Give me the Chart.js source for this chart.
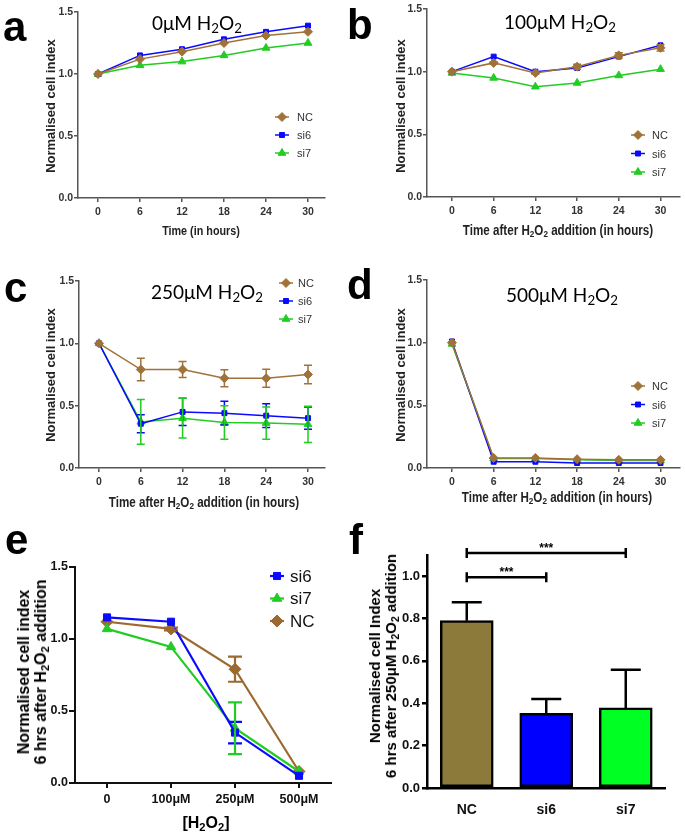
<!DOCTYPE html>
<html><head><meta charset="utf-8">
<script src="https://cdn.jsdelivr.net/npm/chart.js@4.4.1/dist/chart.umd.min.js"></script>
<style>
html,body{margin:0;padding:0;background:#fff}
body{width:685px;height:835px;position:relative;overflow:hidden;font-family:'Liberation Sans',Arial,sans-serif}
canvas{position:absolute;z-index:1}
.tx{position:absolute;white-space:nowrap;z-index:2;line-height:1;color:#000}
.letter{font:bold 42px 'Liberation Sans',Arial,sans-serif}
.pt{font:19px Lato,'Open Sans',sans-serif;transform:translateX(-50%)}
.yt{font:bold 13px 'Liberation Sans',Arial,sans-serif;color:#222;transform:translate(-50%,-50%) rotate(-90deg)}
.xt{font:bold 14px 'Liberation Sans',Arial,sans-serif;color:#222;transform:translate(-50%,-50%) scaleX(0.83)}
.yt2{font:bold 16px 'Liberation Sans',Arial,sans-serif;line-height:17px;text-align:center;transform:translate(-50%,-50%) rotate(-90deg)}
.xt2{font:bold 16px 'Liberation Sans',Arial,sans-serif;transform:translate(-50%,-50%)}
sub{font-size:0.7em;vertical-align:-0.25em;line-height:0}
</style>
</head><body>
<script>
// ---------------- DATA ----------------
const hours = [0, 6, 12, 18, 24, 30];
const timeYTicks = [0, 0.5, 1.0, 1.5];

const aNC  = [1.00, 1.12, 1.18, 1.25, 1.31, 1.34];
const aSi6 = [1.00, 1.15, 1.20, 1.28, 1.34, 1.39];
const aSi7 = [1.00, 1.07, 1.10, 1.15, 1.21, 1.25];

const bNC  = [1.00, 1.07, 0.99, 1.04, 1.13, 1.19];
const bNCerr = [0, 0.01, 0.01, 0.02, 0.02, 0.025];
const bSi6 = [1.00, 1.12, 1.00, 1.03, 1.12, 1.21];
const bSi7 = [0.99, 0.95, 0.88, 0.91, 0.97, 1.02];

const cNC  = [1.00, 0.79, 0.79, 0.72, 0.72, 0.75];
const cNCerr = [0, 0.09, 0.065, 0.068, 0.072, 0.075];
const cSi6 = [1.00, 0.355, 0.45, 0.44, 0.42, 0.40];
const cSi6err = [0, 0.073, 0.11, 0.095, 0.095, 0.09];
const cSi7 = [1.00, 0.37, 0.40, 0.365, 0.36, 0.35];
const cSi7err = [0, 0.18, 0.16, 0.135, 0.13, 0.145];

const dNC  = [1.00, 0.08, 0.08, 0.07, 0.065, 0.065];
const dSi6 = [1.01, 0.05, 0.05, 0.04, 0.04, 0.04];
const dSi7 = [0.99, 0.075, 0.075, 0.065, 0.06, 0.06];

const doses = ['0', '100μM', '250μM', '500μM'];
const eSi6 = [1.15, 1.12, 0.35, 0.05];
const eSi6err = [0, 0, 0.075, 0];
const eSi7 = [1.07, 0.945, 0.38, 0.08];
const eSi7err = [0, 0, 0.18, 0];
const eNC  = [1.12, 1.07, 0.79, 0.08];
const eNCerr = [0, 0.01, 0.087, 0];

const groups = ['NC', 'si6', 'si7'];
const fValues = [0.79, 0.353, 0.378];
const fErr = [0.087, 0.067, 0.18];
const fYTicks = [0, 0.2, 0.4, 0.6, 0.8, 1.0];

// ---------------- STYLE ----------------
const BROWN = '#a0723a', BLUE = '#0a0aff', GREEN = '#22cc22';
const SANS = "'Liberation Sans',Arial,sans-serif";

// ---------------- PLUGINS ----------------
const errorBars = {
  id: 'errorBars',
  afterDatasetsDraw(chart) {
    const ctx = chart.ctx, ys = chart.scales.y;
    chart.data.datasets.forEach((ds, i) => {
      if (!ds.errors) return;
      const meta = chart.getDatasetMeta(i);
      if (meta.hidden) return;
      ctx.save();
      ctx.strokeStyle = ds.errorColor || ds.borderColor;
      ctx.lineWidth = ds.errorWidth || 1.5;
      meta.data.forEach((el, j) => {
        const e = ds.errors[j];
        if (!e) return;
        const raw = ds.data[j];
        const v = (typeof raw === 'object') ? raw.y : raw;
        const x = el.x;
        const yTop = ys.getPixelForValue(v + e);
        const yBot = ds.errorUpOnly ? ys.getPixelForValue(v) : ys.getPixelForValue(v - e);
        const cw = ds.errorCap || 4;
        ctx.beginPath();
        ctx.moveTo(x, yTop); ctx.lineTo(x, yBot);
        ctx.moveTo(x - cw, yTop); ctx.lineTo(x + cw, yTop);
        if (!ds.errorUpOnly) { ctx.moveTo(x - cw, yBot); ctx.lineTo(x + cw, yBot); }
        ctx.stroke();
      });
      ctx.restore();
    });
  }
};

const inLegend = {
  id: 'inLegend',
  afterDraw(chart, args, o) {
    if (!o || !o.order) return;
    const ctx = chart.ctx;
    const ox = chart.canvas.offsetLeft, oy = chart.canvas.offsetTop;
    o.order.forEach((di, k) => {
      const ds = chart.data.datasets[di];
      const y = o.y - oy + k * o.dy;
      const x0 = o.x - ox;
      ctx.save();
      ctx.strokeStyle = ds.borderColor;
      ctx.lineWidth = ds.borderWidth;
      ctx.beginPath(); ctx.moveTo(x0, y); ctx.lineTo(x0 + o.len, y); ctx.stroke();
      ctx.fillStyle = ds.pointBackgroundColor;
      ctx.strokeStyle = ds.pointBorderColor;
      ctx.lineWidth = 1;
      Chart.helpers.drawPoint(ctx, {pointStyle: ds.pointStyle, radius: ds.pointRadius, borderWidth: 1, rotation: 0}, x0 + o.len / 2, y);
      ctx.fillStyle = o.color || '#333';
      ctx.font = o.font;
      ctx.textBaseline = 'middle';
      ctx.textAlign = 'left';
      ctx.fillText(ds.label, o.textX - ox, y + 1);
      ctx.restore();
    });
  }
};

const sigBrackets = {
  id: 'sigBrackets',
  afterDraw(chart, args, o) {
    if (!o || !o.items) return;
    const ctx = chart.ctx, xs = chart.scales.x, ys = chart.scales.y;
    ctx.save();
    ctx.strokeStyle = '#000';
    ctx.fillStyle = '#000';
    ctx.lineWidth = 2.5;
    o.items.forEach(it => {
      const x1 = xs.getPixelForValue(it.from), x2 = xs.getPixelForValue(it.to);
      const y = ys.getPixelForValue(it.y);
      ctx.beginPath();
      ctx.moveTo(x1, y); ctx.lineTo(x2, y);
      ctx.moveTo(x1, y - 5); ctx.lineTo(x1, y + 5);
      ctx.moveTo(x2, y - 5); ctx.lineTo(x2, y + 5);
      ctx.stroke();
      ctx.font = 'bold 12px ' + SANS;
      ctx.textAlign = 'center';
      ctx.textBaseline = 'alphabetic';
      ctx.fillText(it.label, (x1 + x2) / 2, y - 1);
    });
    ctx.restore();
  }
};
Chart.register(errorBars, inLegend, sigBrackets);

// ---------------- HELPERS ----------------
function makePanel(box, area, cfg) {
  const c = document.createElement('canvas');
  c.width = box.w; c.height = box.h;
  c.style.left = box.x + 'px'; c.style.top = box.y + 'px';
  c.style.width = box.w + 'px'; c.style.height = box.h + 'px';
  document.body.appendChild(c);
  const o = cfg.options;
  o.responsive = false; o.animation = false; o.devicePixelRatio = 1;
  o.layout = {padding: {left: 0, top: area.top - box.y, right: box.x + box.w - area.right, bottom: 0}};
  o.scales.y.afterFit = s => { s.width = area.left - box.x; };
  o.scales.x.afterFit = s => { s.height = box.y + box.h - area.bottom; };
  o.plugins = Object.assign({legend: {display: false}, tooltip: {enabled: false}}, o.plugins || {});
  return new Chart(c, cfg);
}

function ptsDs(label, xs, ys, color, style, radius, width, errs) {
  return {
    label,
    data: xs.map((x, i) => ({x, y: ys[i]})),
    borderColor: color, backgroundColor: color,
    pointBackgroundColor: color, pointBorderColor: color,
    pointStyle: style, pointRadius: radius, pointBorderWidth: 1,
    borderWidth: width, tension: 0, errors: errs, errorCap: 4, errorWidth: 1.5
  };
}

function axisCommon(len, lw, col) {
  return {
    grid: {drawOnChartArea: false, drawTicks: true, tickLength: len, color: col, lineWidth: lw},
    border: {color: col, width: lw}
  };
}

function timeChart(box, area, xmin, xmax, sets, legend) {
  const tickFont = {family: SANS, size: 10.5, weight: 'bold'};
  return makePanel(box, area, {
    type: 'line',
    data: {datasets: sets},
    options: {
      scales: {
        x: Object.assign({
          type: 'linear', min: xmin, max: xmax,
          afterBuildTicks: s => { s.ticks = hours.map(v => ({value: v})); },
          ticks: {font: tickFont, color: '#333', padding: 4, autoSkip: false, maxRotation: 0, callback: v => String(v)}
        }, axisCommon(4, 1.5, '#555')),
        y: Object.assign({
          type: 'linear', min: 0, max: 1.5,
          afterBuildTicks: s => { s.ticks = timeYTicks.map(v => ({value: v})); },
          ticks: {font: tickFont, color: '#333', padding: 1, callback: v => Number(v).toFixed(1)}
        }, axisCommon(4, 1.5, '#555'))
      },
      plugins: {inLegend: legend}
    }
  });
}

function tripleSets(nc, si6, si7, errs) {
  errs = errs || [];
  return [
    ptsDs('NC', hours, nc, BROWN, 'rectRot', 4.5, 1.5, errs[0]),
    ptsDs('si6', hours, si6, BLUE, 'rect', 3.5, 1.5, errs[1]),
    ptsDs('si7', hours, si7, GREEN, 'triangle', 4.5, 1.5, errs[2])
  ];
}
const legFont = '11px ' + SANS;

// ---------------- PANELS a-d ----------------
timeChart({x: 0, y: 0, w: 340, h: 250}, {left: 78, top: 12, right: 325, bottom: 198}, -2.86, 32.43,
  tripleSets(aNC, aSi6, aSi7),
  {order: [0, 1, 2], x: 275, y: 117, dy: 18, len: 14, textX: 297, font: legFont});

timeChart({x: 340, y: 0, w: 345, h: 250}, {left: 427, top: 9, right: 680, bottom: 197}, -3.59, 32.73,
  tripleSets(bNC, bSi6, bSi7, [bNCerr]),
  {order: [0, 1, 2], x: 631, y: 135, dy: 18.5, len: 14, textX: 652, font: legFont});

timeChart({x: 0, y: 250, w: 340, h: 265}, {left: 79, top: 281, right: 325, bottom: 468}, -2.87, 32.44,
  tripleSets(cNC, cSi6, cSi7, [cNCerr, cSi6err, cSi7err]),
  {order: [0, 1, 2], x: 279, y: 283, dy: 18, len: 14, textX: 298, font: legFont});

timeChart({x: 340, y: 250, w: 345, h: 265}, {left: 427, top: 280, right: 680, bottom: 468}, -3.59, 32.73,
  tripleSets(dNC, dSi6, dSi7),
  {order: [0, 1, 2], x: 631, y: 386, dy: 18.5, len: 14, textX: 652, font: legFont});

// ---------------- PANEL e ----------------
(function () {
  const tickFont = {family: SANS, size: 12.5, weight: 'bold'};
  function ds(label, vals, color, style, radius, errs) {
    return {label, data: vals, borderColor: color, backgroundColor: color,
      pointBackgroundColor: color, pointBorderColor: color, pointStyle: style,
      pointRadius: radius, pointBorderWidth: 1, borderWidth: 2.2, tension: 0,
      errors: errs, errorCap: 7, errorWidth: 2.2};
  }
  makePanel({x: 0, y: 515, w: 340, h: 320}, {left: 75, top: 567, right: 331, bottom: 783}, {
    type: 'line',
    data: {labels: doses, datasets: [
      ds('si6', eSi6, BLUE, 'rect', 5, eSi6err),
      ds('si7', eSi7, GREEN, 'triangle', 5.5, eSi7err),
      ds('NC', eNC, '#9c6a30', 'rectRot', 6, eNCerr)
    ]},
    options: {
      scales: {
        x: Object.assign({type: 'category', offset: true,
          ticks: {font: tickFont, color: '#111', padding: 4, autoSkip: false, maxRotation: 0}
        }, axisCommon(5, 2, '#111')),
        y: Object.assign({type: 'linear', min: 0, max: 1.5,
          afterBuildTicks: s => { s.ticks = timeYTicks.map(v => ({value: v})); },
          ticks: {font: tickFont, color: '#111', padding: 1, callback: v => Number(v).toFixed(1)}
        }, axisCommon(6, 2, '#111'))
      },
      plugins: {inLegend: {order: [0, 1, 2], x: 270, y: 576, dy: 22.5, len: 14, textX: 290,
        font: '17px ' + SANS, color: '#111'}}
    }
  });
})();

// ---------------- PANEL f ----------------
(function () {
  const tickFont = {family: SANS, size: 13, weight: 'bold'};
  makePanel({x: 340, y: 515, w: 345, h: 320}, {left: 427, top: 555, right: 665.5, bottom: 788}, {
    type: 'bar',
    data: {labels: groups, datasets: [{
      label: '250μM', data: fValues,
      backgroundColor: ['#8b7a3a', '#0000ff', '#00ff22'],
      borderColor: '#000', borderWidth: 2.5, borderSkipped: false,
      barThickness: 53,
      errors: fErr, errorUpOnly: true, errorCap: 15, errorWidth: 2.5, errorColor: '#000'
    }]},
    options: {
      scales: {
        x: {type: 'category', offset: true,
          grid: {display: false, drawOnChartArea: false},
          border: {color: '#000', width: 2.5},
          ticks: {font: {family: SANS, size: 14, weight: 'bold'}, color: '#111', padding: 6, autoSkip: false, maxRotation: 0}},
        y: Object.assign({type: 'linear', min: 0, max: 1.1,
          afterBuildTicks: s => { s.ticks = fYTicks.map(v => ({value: v})); },
          ticks: {font: tickFont, color: '#111', padding: 2, callback: v => Number(v).toFixed(1)}
        }, axisCommon(5, 2.5, '#000'))
      },
      plugins: {sigBrackets: {items: [
        {from: 0, to: 2, y: 1.109, label: '***'},
        {from: 0, to: 1, y: 0.995, label: '***'}
      ]}}
    }
  });
})();
</script>

<!-- panel letters -->
<div class="tx letter" style="left:3px;top:3px">a</div>
<div class="tx letter" style="left:347px;top:1px">b</div>
<div class="tx letter" style="left:4px;top:264px">c</div>
<div class="tx letter" style="left:347px;top:261px">d</div>
<div class="tx letter" style="left:5px;top:516px">e</div>
<div class="tx letter" style="left:349px;top:516px">f</div>

<!-- panel titles -->
<div class="tx pt" style="left:197px;top:11px">0μM H<sub>2</sub>O<sub>2</sub></div>
<div class="tx pt" style="left:560px;top:10px">100μM H<sub>2</sub>O<sub>2</sub></div>
<div class="tx pt" style="left:207px;top:280px">250μM H<sub>2</sub>O<sub>2</sub></div>
<div class="tx pt" style="left:562px;top:283px">500μM H<sub>2</sub>O<sub>2</sub></div>

<!-- axis titles a-d -->
<div class="tx yt" style="left:50px;top:106px">Normalised cell index</div>
<div class="tx yt" style="left:400px;top:106px">Normalised cell index</div>
<div class="tx yt" style="left:50px;top:375px">Normalised cell index</div>
<div class="tx yt" style="left:400px;top:375px">Normalised cell index</div>
<div class="tx xt" style="left:201px;top:230px;font-size:13px">Time (in hours)</div>
<div class="tx xt" style="left:558px;top:230px">Time after H<sub>2</sub>O<sub>2</sub> addition (in hours)</div>
<div class="tx xt" style="left:204px;top:502px">Time after H<sub>2</sub>O<sub>2</sub> addition (in hours)</div>
<div class="tx xt" style="left:557px;top:497px">Time after H<sub>2</sub>O<sub>2</sub> addition (in hours)</div>

<!-- axis titles e-f -->
<div class="tx yt2" style="left:32px;top:672px">Normalised cell index<br>6 hrs after H<sub>2</sub>O<sub>2</sub> addition</div>
<div class="tx xt2" style="left:206px;top:823px">[H<sub>2</sub>O<sub>2</sub>]</div>
<div class="tx yt2" style="left:383px;top:666px;font-size:15px;line-height:16px">Normalised cell Index<br>6 hrs after 250μM H<sub>2</sub>O<sub>2</sub> addition</div>
</body></html>
